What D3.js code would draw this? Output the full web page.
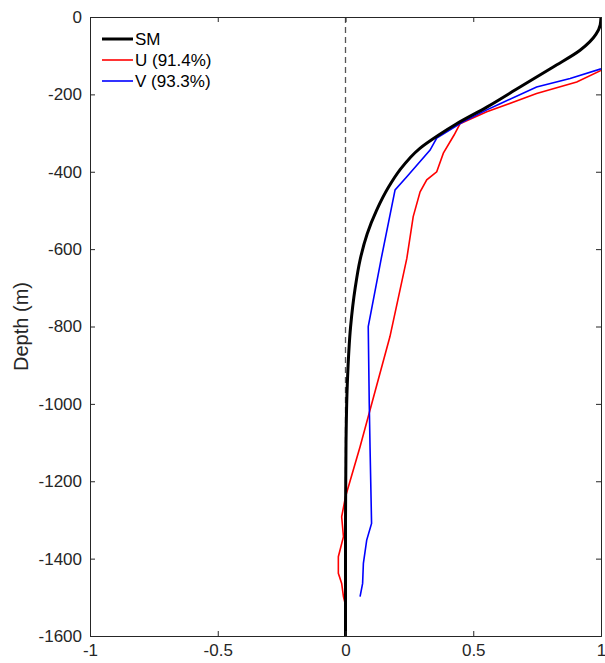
<!DOCTYPE html>
<html>
<head>
<meta charset="utf-8">
<script src="https://cdn.jsdelivr.net/npm/d3@7"></script>
<style>
  body { margin: 0; background: #fff; }
  svg text { font-family: "Liberation Sans", Arial, sans-serif; }
</style>
</head>
<body>
<script>
// profiles (depth in m, normalised amplitude)
var smDepth = [0, -20, -45, -86, -129, -181, -233, -276, -305, -340, -395, -440, -499, -560, -628, -700, -800, -950, -1100, -1300, -1600];
var smValue = [1.0, 0.997, 0.98, 0.918, 0.813, 0.683, 0.553, 0.435, 0.365, 0.29, 0.213, 0.168, 0.122, 0.085, 0.057, 0.038, 0.02, 0.007, 0.002, 0, 0];

var uDepth = [-138, -168, -198, -245, -276, -305, -352, -400, -421, -452, -516, -624, -826, -1016, -1111, -1240, -1292, -1343, -1395, -1438, -1464, -1498, -1520];
var uValue = [1.0, 0.905, 0.748, 0.553, 0.448, 0.425, 0.383, 0.357, 0.318, 0.292, 0.265, 0.240, 0.174, 0.096, 0.057, 0, -0.015, -0.008, -0.028, -0.028, -0.015, -0.008, 0];

var vDepth = [-134, -159, -181, -224, -240, -271, -313, -344, -413, -447, -624, -800, -1000, -1111, -1309, -1352, -1412, -1464, -1498];
var vValue = [1.0, 0.879, 0.748, 0.605, 0.553, 0.46, 0.357, 0.331, 0.240, 0.194, 0.140, 0.089, 0.093, 0.096, 0.102, 0.083, 0.070, 0.067, 0.057];

var seriesNames = ["SM", "U (91.4%)", "V (93.3%)"];
var seriesColors = ["#000000", "#ff0000", "#0000ff"];
var xTicks = [-1, -0.5, 0, 0.5, 1];
var yTicks = [-1600, -1400, -1200, -1000, -800, -600, -400, -200, 0];

var width = 605, height = 663;
var padLeft = 90, padRight = 601, padTop = 17, padBottom = 636;

var svg = d3.select("body").append("svg")
    .attr("width", width)
    .attr("height", height);

var x = d3.scaleLinear().domain([-1, 1]).range([padLeft, padRight]);
var y = d3.scaleLinear().domain([-1600, 0]).range([padBottom, padTop]);

svg.append("defs").append("clipPath").attr("id", "plotclip")
    .append("rect")
    .attr("x", padLeft).attr("y", padTop)
    .attr("width", padRight - padLeft).attr("height", padBottom - padTop);

/*****************  zero line **********************/
svg.append("line")
    .attr("x1", x(0)).attr("x2", x(0))
    .attr("y1", y(0)).attr("y2", y(-1600))
    .style("stroke", "#555")
    .style("stroke-width", 1.3)
    .style("stroke-dasharray", "6,4");

/*****************  curves **********************/
function zip(ds, vs) {
    return ds.map(function (d, i) { return [vs[i], d]; });
}

var plot = svg.append("g").attr("clip-path", "url(#plotclip)");

plot.append("path")
    .datum(zip(uDepth, uValue))
    .attr("d", d3.line().x(function (d) { return x(d[0]); }).y(function (d) { return y(d[1]); }))
    .style("fill", "none")
    .style("stroke", seriesColors[1])
    .style("stroke-width", 1.6);

plot.append("path")
    .datum(zip(vDepth, vValue))
    .attr("d", d3.line().x(function (d) { return x(d[0]); }).y(function (d) { return y(d[1]); }))
    .style("fill", "none")
    .style("stroke", seriesColors[2])
    .style("stroke-width", 1.6);

plot.append("path")
    .datum(zip(smDepth, smValue))
    .attr("d", d3.line().curve(d3.curveMonotoneY)
        .x(function (d) { return x(d[0]); }).y(function (d) { return y(d[1]); }))
    .style("fill", "none")
    .style("stroke", seriesColors[0])
    .style("stroke-width", 3);

/*****************  axes (box with inward ticks) **********************/
var axisColor = "#262626";
var plain = function (d) { return String(d); };

svg.append("g")
    .attr("transform", "translate(0," + padBottom + ")")
    .call(d3.axisBottom(x).tickValues(xTicks).tickSize(-5).tickPadding(8).tickFormat(plain));
svg.append("g")
    .attr("transform", "translate(0," + padTop + ")")
    .call(d3.axisTop(x).tickValues(xTicks).tickSize(-5).tickFormat(""));
svg.append("g")
    .attr("transform", "translate(" + padLeft + ",0)")
    .call(d3.axisLeft(y).tickValues(yTicks).tickSize(-5).tickPadding(8).tickFormat(plain));
svg.append("g")
    .attr("transform", "translate(" + padRight + ",0)")
    .call(d3.axisRight(y).tickValues(yTicks).tickSize(-5).tickFormat(""));

svg.selectAll(".domain").style("stroke", axisColor).style("stroke-width", 1);
svg.selectAll(".tick line").style("stroke", axisColor);
svg.selectAll(".tick text")
    .style("font-size", "17px")
    .style("fill", "#262626");

svg.append("text")
    .attr("transform", "translate(28," + ((padTop + padBottom) / 2) + ") rotate(-90)")
    .attr("text-anchor", "middle")
    .style("font-size", "20px")
    .style("fill", "#262626")
    .text("Depth (m)");

/*****************  legend **********************/
var legend = svg.append("g").selectAll("g")
    .data(seriesNames)
    .enter()
    .append("g")
    .attr("transform", function (d, i) { return "translate(102," + (39 + i * 21) + ")"; });

legend.append("line")
    .attr("x1", 0).attr("x2", 31)
    .attr("y1", 0).attr("y2", 0)
    .style("stroke", function (d, i) { return seriesColors[i]; })
    .style("stroke-width", function (d, i) { return i == 0 ? 3 : 1.6; });

legend.append("text")
    .attr("x", 33)
    .attr("y", 0)
    .attr("dy", "0.35em")
    .style("font-size", "17px")
    .style("fill", "#000")
    .text(function (d) { return d; });
</script>
</body>
</html>
